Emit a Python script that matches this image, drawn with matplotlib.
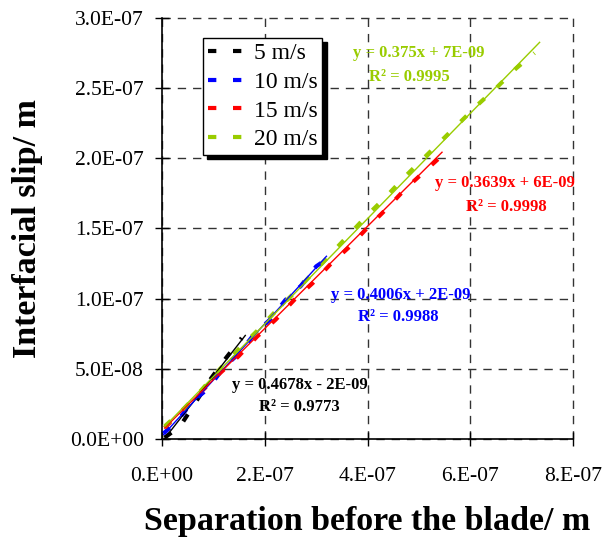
import matplotlib
matplotlib.use("Agg")
import matplotlib.pyplot as plt
import numpy as np

# data
labels = ["5 m/s", "10 m/s", "15 m/s", "20 m/s"]
colors = ["#000000", "#0000ff", "#ff0000", "#99cc00"]

x5 = np.array([0.05, 0.35, 0.65, 0.95, 1.25, 1.55]) * 1e-7
y5 = np.array([0.1, 0.9, 2.6, 4.3, 5.8, 7.2]) * 1e-8

x10 = np.array([0.03, 0.3, 0.6, 0.9, 1.2, 1.5, 1.8, 2.1, 2.4, 2.7, 3.0, 3.2]) * 1e-7
y10 = np.array([0.4, 1.3, 2.7, 3.6, 5.1, 6.1, 7.5, 8.5, 9.9, 10.9, 12.3, 12.8]) * 1e-8

x15 = np.array([0.05, 0.41, 0.77, 1.13, 1.49, 1.85, 2.21, 2.57, 2.93, 3.29,
                3.65, 4.01, 4.37, 4.73, 5.09, 5.45]) * 1e-7
y15 = np.array([0.8, 2.1, 3.4, 4.7, 5.9, 7.3, 8.5, 9.9, 11.1, 12.5,
                13.7, 15.1, 16.4, 17.8, 19.0, 20.2]) * 1e-8

x20 = np.array([0.05, 0.41, 0.77, 1.13, 1.49, 1.85, 2.21, 2.57, 2.93, 3.29, 3.65,
                4.01, 4.37, 4.73, 5.09, 5.45, 5.81, 6.17, 6.53, 6.89, 7.25]) * 1e-7
y20 = np.array([0.9, 2.1, 3.5, 5.0, 6.4, 7.7, 9.1, 10.4, 11.8, 13.2, 14.6,
                16.0, 17.3, 18.7, 20.0, 21.3, 22.6, 23.9, 25.1, 26.4, 27.5]) * 1e-8

xs = [x5, x10, x15, x20]
ys = [y5, y10, y15, y20]

# trendline coefficients as printed on the chart
slopes = [0.4678, 0.4006, 0.3639, 0.375]
intercepts = [-2e-9, 2e-9, 6e-9, 7e-9]
trend_end = [1.62e-7, 3.2e-7, 5.45e-7, 7.35e-7]
eq_text = ["y = 0.4678x - 2E-09", "y = 0.4006x + 2E-09",
           "y = 0.3639x + 6E-09", "y = 0.375x + 7E-09"]
r2_text = ["R² = 0.9773", "R² = 0.9988", "R² = 0.9998", "R² = 0.9995"]
eq_pos = [(2.69e-7, 3.85e-8), (4.64e-7, 10.26e-8), (6.68e-7, 18.23e-8), (4.99e-7, 27.49e-8)]
r2_pos = [(2.67e-7, 2.28e-8), (4.60e-7, 8.69e-8), (6.70e-7, 16.52e-8), (4.81e-7, 25.78e-8)]

xticks = [0, 2e-7, 4e-7, 6e-7, 8e-7]
xticklabels = ["0.E+00", "2.E-07", "4.E-07", "6.E-07", "8.E-07"]
yticks = [0, 0.5e-7, 1.0e-7, 1.5e-7, 2.0e-7, 2.5e-7, 3.0e-7]
yticklabels = ["0.0E+00", "5.0E-08", "1.0E-07", "1.5E-07", "2.0E-07", "2.5E-07", "3.0E-07"]

plt.rcParams['font.family'] = ['Liberation Serif', 'DejaVu Serif']

fig = plt.figure(figsize=(6.07, 5.44), dpi=100)
ax = fig.add_axes([0.267, 0.193, 0.677, 0.774])

for x, y, c, lab in zip(xs, ys, colors, labels):
    ax.plot(x, y, color=c, lw=3, linestyle=(0, (2, 4)), label=lab, zorder=3)

for i, c in enumerate(colors):
    xx = np.array([xs[i].min(), trend_end[i]])
    ax.plot(xx, slopes[i] * xx + intercepts[i], color=c, lw=1, zorder=4)
    ax.text(*eq_pos[i], eq_text[i], color=c, fontsize=12, fontweight='bold',
            ha='center', va='center')
    ax.text(*r2_pos[i], r2_text[i], color=c, fontsize=12, fontweight='bold',
            ha='center', va='center')

ax.set_xlim(0, 8e-7)
ax.set_ylim(0, 3e-7)
ax.set_xticks(xticks)
ax.set_xticklabels(xticklabels)
ax.set_yticks(yticks)
ax.set_yticklabels(yticklabels)
ax.tick_params(direction='inout', length=10, width=1, labelsize=15.5)
ax.tick_params(axis='x', pad=15)
ax.tick_params(axis='y', pad=8)

ax.grid(True, color='#333333', linestyle=(0, (6, 5)), lw=1)
for g in ax.get_xgridlines() + ax.get_ygridlines():
    g.set_clip_on(False)
ax.spines['top'].set_visible(False)
ax.spines['right'].set_visible(False)
ax.spines['left'].set_linewidth(1.2)
ax.spines['bottom'].set_linewidth(1.2)
ax.set_axisbelow(True)

ax.set_xlabel("Separation before the blade/ m", fontsize=24.5, fontweight='bold')
ax.set_ylabel("Interfacial slip/ m", fontsize=24.5, fontweight='bold')
ax.xaxis.set_label_coords(0.5, -0.197)
ax.yaxis.set_label_coords(-0.328, 0.5)
ax.xaxis.label.set_va('center')
ax.yaxis.label.set_va('center')

leg = ax.legend(loc='upper left', bbox_to_anchor=(0.1, 0.952), borderaxespad=0,
                fancybox=False, framealpha=1, edgecolor='black', fontsize=17,
                handlelength=1.45, handletextpad=0.5, borderpad=0.2,
                labelspacing=0.3,
                shadow={'color': 'black', 'alpha': 1, 'ox': 3, 'oy': -3})
leg.get_frame().set_linewidth(1)

fig.savefig("out.png", dpi=100)
